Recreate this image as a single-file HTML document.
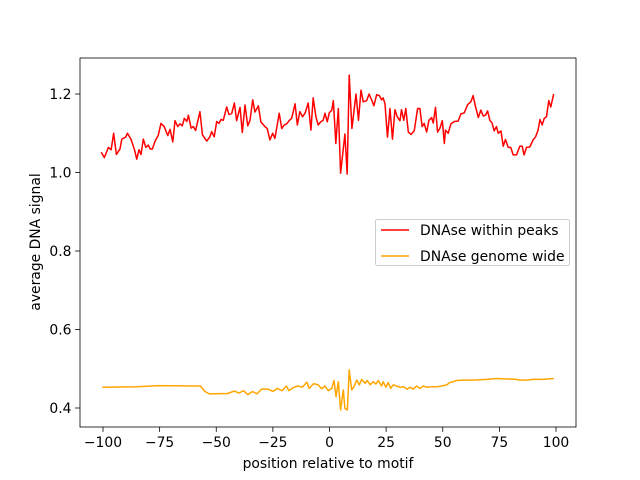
<!DOCTYPE html>
<html><head><meta charset="utf-8"><style>
body{margin:0;background:#fff;}
svg{display:block;font-family:"DejaVu Sans","Liberation Sans",sans-serif;}
</style></head><body>
<svg id="chart" width="640" height="480" viewBox="0 0 640 480" xmlns="http://www.w3.org/2000/svg">
<rect x="0" y="0" width="640" height="480" fill="#fff"/>
<g id="plot"></g>
</svg>
<script>
const xTicks=[-100,-75,-50,-25,0,25,50,75,100];
const yTicks=[0.4,0.6,0.8,1.0,1.2];
const yTickLabels=["0.4","0.6","0.8","1.0","1.2"];
const peaksX=[-100.6,-99.4,-97.6,-96.4,-95.3,-94.1,-92.5,-91.7,-90,-89.2,-87.6,-86.1,-85.1,-84.1,-83.2,-82.2,-81.1,-80,-79.2,-78.2,-77,-75.6,-74.4,-73,-71.4,-70.4,-69.2,-68.2,-67,-66,-65,-64.1,-63,-62.3,-61.1,-60.1,-59.1,-57.2,-56.1,-54.2,-52.8,-52,-50.9,-49.8,-48.8,-47.9,-46.9,-45.4,-44.4,-43.2,-42,-41,-39.5,-38.5,-37.3,-36.1,-35.1,-33.9,-32.9,-31.4,-30.3,-28.5,-27.5,-26.3,-25.1,-24.1,-22.2,-21.1,-20,-18.9,-17.7,-16.7,-15.2,-14.2,-13.1,-11.9,-10.8,-9.4,-8.2,-7.2,-6,-5,-3.9,-2.8,-2,-1,-0.1,1,1.7,2.8,3.9,4.9,6.8,7.8,8.7,9.9,11.7,12.8,13.9,14.9,16.4,17.5,18.6,19.6,20.8,22,23,23.7,24.5,25.6,26.7,27.8,28.9,29.9,31.1,31.8,32.8,33.7,34.8,36,37.4,38.9,39.9,40.9,41.8,42.9,43.9,45.1,45.8,46.8,47.7,48.7,49.8,50.7,51.2,52.4,53.6,55.1,56.8,58,59.5,61,62.4,63.4,64.5,65.7,66.8,67.9,68.9,69.8,70.8,71.8,72.7,73.7,74.5,75.7,76.7,77.7,78.9,80,81.1,82.6,84,85.1,85.9,87,88.4,89.9,91,92.1,92.9,93.9,94.8,95.8,96.8,97.7,98.9];
const peaksY=[1.05,1.038,1.064,1.058,1.10,1.046,1.06,1.085,1.09,1.10,1.084,1.058,1.034,1.058,1.046,1.085,1.064,1.07,1.06,1.06,1.08,1.095,1.125,1.117,1.094,1.11,1.078,1.132,1.117,1.124,1.119,1.138,1.13,1.146,1.113,1.117,1.107,1.155,1.096,1.08,1.091,1.104,1.091,1.13,1.125,1.135,1.133,1.167,1.148,1.15,1.177,1.132,1.166,1.102,1.172,1.119,1.133,1.185,1.154,1.17,1.129,1.117,1.112,1.083,1.10,1.087,1.151,1.112,1.121,1.124,1.133,1.138,1.175,1.121,1.155,1.142,1.151,1.177,1.108,1.19,1.142,1.121,1.129,1.133,1.151,1.129,1.152,1.159,1.183,1.074,1.163,0.998,1.098,0.996,1.248,1.112,1.20,1.133,1.21,1.18,1.183,1.20,1.185,1.17,1.198,1.196,1.185,1.19,1.175,1.09,1.163,1.085,1.16,1.142,1.132,1.16,1.133,1.163,1.103,1.097,1.106,1.163,1.163,1.117,1.125,1.103,1.133,1.14,1.126,1.166,1.103,1.112,1.132,1.074,1.108,1.10,1.124,1.13,1.131,1.149,1.152,1.173,1.18,1.196,1.167,1.14,1.159,1.144,1.146,1.157,1.133,1.126,1.106,1.117,1.10,1.106,1.067,1.084,1.064,1.064,1.045,1.045,1.067,1.067,1.045,1.064,1.065,1.083,1.091,1.108,1.135,1.121,1.138,1.142,1.183,1.167,1.198];
const wideX=[-100,-85,-75,-60,-57,-55,-53,-45,-42,-40,-38,-36,-34,-32,-30,-27,-25,-23,-21,-19,-18,-16,-14,-12,-10,-9,-7,-5,-3.5,-2,-0.5,1,2,2.9,3.9,4.9,6.1,6.8,7.9,8.7,9.8,10.8,12,13.2,14.2,15.7,16.7,17.9,19.3,20.5,21.5,23,23.7,24.9,25.9,27,28.2,29.6,31.1,32.6,34.3,35.5,37,38.4,39.9,41.4,42.9,45,47.3,49.5,51.7,53.2,54.6,56.1,59,63.4,69.3,73.7,78.2,82.6,84,86.9,89.9,94.3,98.7];
const wideY=[0.453,0.454,0.457,0.456,0.456,0.442,0.436,0.437,0.443,0.438,0.444,0.434,0.442,0.436,0.448,0.448,0.442,0.450,0.444,0.456,0.444,0.452,0.456,0.453,0.466,0.450,0.462,0.459,0.449,0.456,0.444,0.450,0.470,0.429,0.467,0.395,0.446,0.399,0.395,0.497,0.446,0.454,0.471,0.459,0.473,0.463,0.470,0.459,0.467,0.461,0.470,0.456,0.467,0.453,0.465,0.450,0.459,0.456,0.453,0.454,0.448,0.453,0.448,0.456,0.450,0.456,0.453,0.454,0.454,0.456,0.459,0.465,0.467,0.470,0.471,0.471,0.473,0.475,0.474,0.473,0.471,0.471,0.473,0.473,0.475];

const NS="http://www.w3.org/2000/svg";
const L=80,R=576,T=58,B=427;
const FS=13.9;
const sx=v=>103+(v+100)*(556-103)/200;
const sy=v=>94+(1.2-v)*(408-94)/0.8;
const g=document.getElementById('plot');
function mk(tag,attrs,parent){const e=document.createElementNS(NS,tag);for(const k in attrs)e.setAttribute(k,attrs[k]);(parent||g).appendChild(e);return e;}

function line(xs,ys,color,name){
  const d=xs.map((x,i)=>(i?'L':'M')+sx(x).toFixed(2)+' '+sy(ys[i]).toFixed(2)).join(' ');
  const p=mk('path',{d:d,fill:'none',stroke:color,'stroke-width':1.5,'stroke-linejoin':'round','stroke-linecap':'square'});
  
  
}
line(peaksX,peaksY,'#ff0000','series-dnase-within-peaks');
line(wideX,wideY,'#ffa500','series-dnase-genome-wide');

const frame=mk('rect',{x:L,y:T,width:R-L,height:B-T,fill:'none',stroke:'#000','stroke-width':0.8});



xTicks.forEach(v=>{
  const x=sx(v);
  const t=mk('line',{x1:x,x2:x,y1:B,y2:B+4.9,stroke:'#000','stroke-width':0.8});
  
  
  const tx=mk('text',{x:x,y:B+20,'font-size':FS,'text-anchor':'middle',fill:'#000'});
  tx.textContent=(v<0?'\u2212'+(-v):String(v));
  
  
});
yTicks.forEach((v,i)=>{
  const y=sy(v);
  const t=mk('line',{x1:L-4.9,x2:L,y1:y,y2:y,stroke:'#000','stroke-width':0.8});
  
  
  const tx=mk('text',{x:L-8.5,y:y+5,'font-size':FS,'text-anchor':'end',fill:'#000'});
  tx.textContent=yTickLabels[i];
  
  
});
const xl=mk('text',{x:328,y:468,'font-size':FS,'text-anchor':'middle',fill:'#000'});
xl.textContent='position relative to motif';


const yl=mk('text',{x:0,y:0,'font-size':FS,'text-anchor':'middle',fill:'#000',transform:'translate(40,242) rotate(-90)'});
yl.textContent='average DNA signal';



const leg=mk('g',{});


mk('rect',{x:375.5,y:219.5,width:194,height:46,rx:2,fill:'#fff','fill-opacity':0.8,stroke:'#ccc','stroke-width':1},leg);
[['DNAse within peaks','#ff0000',230],['DNAse genome wide','#ffa500',256]].forEach(([lab,c,y])=>{
  const e=mk('g',{},leg);
  
  
  mk('line',{x1:381,x2:409,y1:y,y2:y,stroke:c,'stroke-width':1.5},e);
  const t=mk('text',{x:420,y:y+5,'font-size':FS,fill:'#000'},e);
  t.textContent=lab;
});
</script>
</body></html>
